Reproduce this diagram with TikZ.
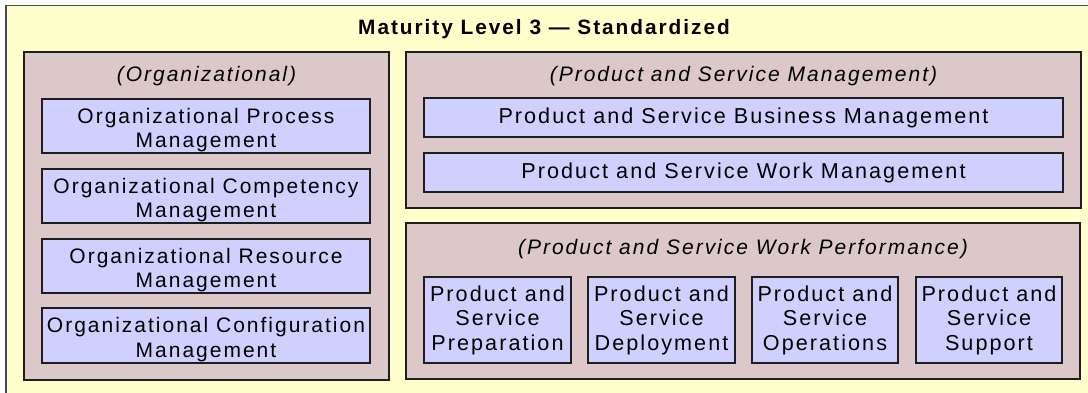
\documentclass[tikz,border=0pt]{standalone}
\usepackage{fontspec}
\setmainfont{Liberation Sans}[LetterSpace=9.5]
\definecolor{bgc}{HTML}{FFFFCC}
\definecolor{panelc}{HTML}{DCC8C8}
\definecolor{boxc}{HTML}{D0D0FF}
\definecolor{edgec}{HTML}{1E1E1E}
\definecolor{framec}{HTML}{4A4A4A}
\newcommand{\lowstrut}{\rule{0pt}{23pt}}
\begin{document}
\begin{tikzpicture}[x=1pt,y=-1pt,
  frame/.style={draw=framec, fill=bgc, line width=1.6pt, inner sep=0pt, anchor=north west},
  panel/.style={draw=edgec, fill=panelc, line width=1.5pt, inner sep=0pt},
  pbox/.style={draw=edgec, fill=boxc, line width=1.5pt, inner sep=0pt, align=center,
    font=\fontsize{21.6}{24.5}\selectfont},
  obox/.style={pbox, font=\fontsize{21}{24.5}\selectfont},
  head/.style={font=\fontsize{21}{24.5}\selectfont\itshape, inner sep=0pt, anchor=base},
  ttl/.style={font=\fontsize{20.8}{24}\selectfont\bfseries, inner sep=0pt, anchor=base},
  ]
\useasboundingbox (0,0) rectangle (1088,392);
\begin{scope}
\clip (0,0) rectangle (1088,392);
\node[frame, minimum width=1100pt, minimum height=400pt] (frm) at (5,4.5) {};
\end{scope}
\node[ttl] (title) at (544,34) {Maturity Level 3 — Standardized};

% left panel
\node[panel, minimum width=365pt, minimum height=328pt] (orgp) at (206.5,216) {};
\node[head] (orgh) at (206.5,81) {(Organizational)};
\node[obox, minimum width=328pt, minimum height=54pt] (opm) at (206,126) {\lowstrut Organizational Process\\Management};
\node[obox, minimum width=328pt, minimum height=54pt] (ocm) at (206,196) {\lowstrut Organizational Competency\\Management};
\node[obox, minimum width=328pt, minimum height=54pt] (orm) at (206,266) {\lowstrut Organizational Resource\\Management};
\node[obox, minimum width=328pt, minimum height=55pt] (ocfm) at (206,335.5) {\lowstrut Organizational Configuration\\Management};

% right top panel
\node[panel, minimum width=675pt, minimum height=156pt] (psmp) at (743.5,130) {};
\node[head] (psmh) at (743.5,81) {(Product and Service Management)};
\node[pbox, minimum width=639pt, minimum height=39pt] (psbm) at (743.5,117.5) {Product and Service Business Management};
\node[pbox, minimum width=639pt, minimum height=39pt] (pswm) at (743.5,172.5) {Product and Service Work Management};

% right bottom panel
\node[panel, minimum width=674pt, minimum height=156pt] (pswp) at (743,301) {};
\node[head] (pswh) at (743,254) {(Product and Service Work Performance)};
\node[pbox, minimum width=147pt, minimum height=86pt] (prep) at (497.5,320) {Product and\\Service\\Preparation};
\node[pbox, minimum width=147pt, minimum height=86pt] (depl) at (661.5,320) {Product and\\Service\\Deployment};
\node[pbox, minimum width=146pt, minimum height=86pt] (oper) at (825,320) {Product and\\Service\\Operations};
\node[pbox, minimum width=146pt, minimum height=86pt] (supp) at (989,320) {Product and\\Service\\Support};
\end{tikzpicture}
\end{document}
